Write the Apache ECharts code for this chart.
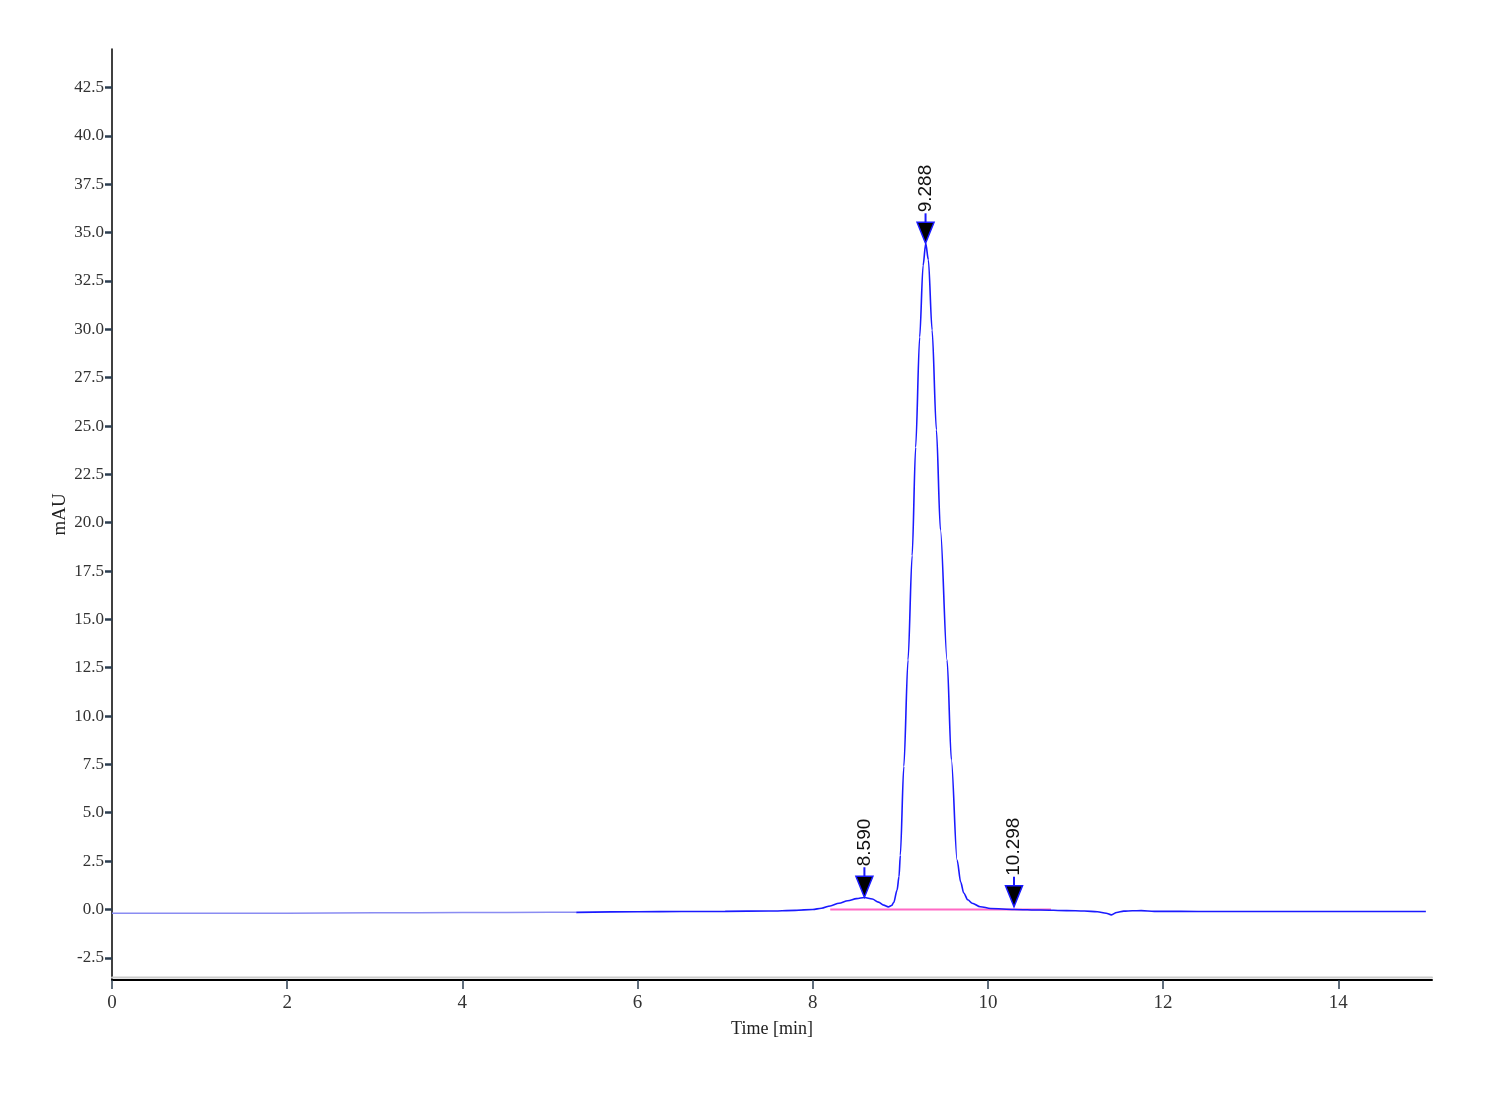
<!DOCTYPE html>
<html>
<head>
<meta charset="utf-8">
<script src="https://cdn.jsdelivr.net/npm/echarts@6/dist/echarts.min.js"></script>
<style>html,body{margin:0;padding:0;background:#fff;}#chart{width:1500px;height:1100px;}</style>
</head>
<body>
<div id="chart"></div>
<script>
// Tick values
const xTickValues = [0, 2, 4, 6, 8, 10, 12, 14];
const yTickValues = [-2.5, 0, 2.5, 5, 7.5, 10, 12.5, 15, 17.5, 20, 22.5, 25, 27.5, 30, 32.5, 35, 37.5, 40, 42.5];

// Early (pale) part of the trace
const timePale   = [0, 0.5, 1.0, 1.5, 2.0, 2.5, 3.0, 3.5, 4.0, 4.5, 5.0, 5.3];
const signalPale = [-0.2, -0.2, -0.2, -0.2, -0.2, -0.18, -0.17, -0.17, -0.16, -0.16, -0.15, -0.15];

// Main part of the trace
const timeMain = [5.3, 6.0, 6.5, 7.0, 7.5, 7.8, 8.0, 8.1, 8.2, 8.3, 8.4, 8.5, 8.59, 8.68, 8.75, 8.81, 8.863, 8.90, 8.924, 8.963, 8.985, 9.0, 9.04, 9.088, 9.135, 9.175, 9.221, 9.26, 9.29, 9.32, 9.363, 9.412, 9.458, 9.534, 9.583, 9.648, 9.69, 9.724, 9.77, 9.82, 9.914, 10.03, 10.3, 10.6, 10.9, 11.1, 11.25, 11.35, 11.41, 11.47, 11.55, 11.65, 11.75, 11.9, 12.2, 12.6, 13.0, 13.5, 14.0, 14.5, 15.0];
const signalMain = [-0.15, -0.12, -0.11, -0.1, -0.08, -0.05, 0.0, 0.06, 0.18, 0.32, 0.45, 0.56, 0.62, 0.54, 0.38, 0.22, 0.13, 0.2, 0.35, 1.0, 1.7, 2.8, 7.4, 12.9, 18.3, 23.9, 29.6, 33.3, 34.45, 33.6, 29.96, 24.8, 19.62, 12.9, 7.73, 2.56, 1.4, 0.85, 0.5, 0.32, 0.14, 0.05, 0.0, -0.03, -0.06, -0.08, -0.12, -0.2, -0.28, -0.16, -0.09, -0.07, -0.06, -0.1, -0.1, -0.11, -0.11, -0.11, -0.11, -0.11, -0.11];

// Integration baseline
const baseTime   = [8.2, 10.72];
const baseSignal = [0.0, 0.0];

// Peak markers
const peakTimes  = [8.590, 9.288, 10.298];
const peakValues = [0.63, 34.45, 0.14];
const peakLabels = ['8.590', '9.288', '10.298'];

const chart = echarts.init(document.getElementById('chart'));
const zip = (a, b) => a.map((v, i) => [v, b[i]]);

chart.setOption({
  backgroundColor: '#ffffff',
  animation: false,
  grid: { left: 112, right: 68, top: 49, bottom: 120, containLabel: false },
  xAxis: {
    type: 'value', min: 0, max: 15.07,
    name: 'Time [min]', nameLocation: 'middle', nameGap: 40, nameMoveOverlap: false,
    nameTextStyle: { fontFamily: 'Liberation Serif', fontSize: 18, color: '#222' },
    axisLine: { show: true, onZero: false, lineStyle: { color: '#000', width: 2, shadowColor: '#cccccc', shadowOffsetY: -2.5, shadowBlur: 0 } },
    axisTick: { show: true, length: 9, lineStyle: { color: '#2c3e50', width: 1.5 }, customValues: xTickValues },
    axisLabel: { show: true, margin: 14, fontFamily: 'Liberation Serif', fontSize: 19, color: '#333', customValues: xTickValues, formatter: v => String(v) },
    splitLine: { show: false }
  },
  yAxis: {
    type: 'value', min: -3.65, max: 44.5,
    name: 'mAU', nameLocation: 'middle', nameGap: 42, nameMoveOverlap: false,
    nameTextStyle: { fontFamily: 'Liberation Serif', fontSize: 19, color: '#222' },
    axisLine: { show: true, onZero: false, lineStyle: { color: '#000', width: 1.5 } },
    axisTick: { show: true, length: 7, lineStyle: { color: '#2c3e50', width: 2.5 }, customValues: yTickValues },
    axisLabel: { show: true, margin: 8, fontFamily: 'Liberation Serif', fontSize: 17, color: '#333', customValues: yTickValues, formatter: v => v.toFixed(1) },
    splitLine: { show: false }
  },
  series: [
    {
      type: 'line', name: 'pale', data: zip(timePale, signalPale),
      showSymbol: false, symbol: 'none', smooth: false,
      lineStyle: { color: '#8a8cf2', width: 1.5 }, z: 2
    },
    {
      type: 'line', name: 'baseline', data: zip(baseTime, baseSignal),
      showSymbol: false, symbol: 'none',
      lineStyle: { color: '#ff69c4', width: 2 }, z: 2
    },
    {
      type: 'line', name: 'trace', data: zip(timeMain, signalMain),
      showSymbol: false, symbol: 'none', smooth: 0.3, smoothMonotone: 'x',
      lineStyle: { color: '#1a1aff', width: 1.6 }, z: 3
    },
    {
      type: 'custom', name: 'peaks', clip: false, z: 5,
      data: zip(peakTimes, peakValues),
      renderItem: function (params, api) {
        const p = api.coord([api.value(0), api.value(1)]);
        const label = peakLabels[params.dataIndex];
        return {
          type: 'group',
          children: [
            { type: 'line', shape: { x1: p[0], y1: p[1] - 21, x2: p[0], y2: p[1] - 30 }, style: { stroke: '#1a1aff', lineWidth: 2 } },
            { type: 'polygon', shape: { points: [[p[0] - 8.5, p[1] - 21], [p[0] + 8.5, p[1] - 21], [p[0], p[1]]] }, style: { fill: '#000', stroke: '#1a1aff', lineWidth: 1.5 } },
            { type: 'text', x: p[0], y: p[1] - 31, rotation: Math.PI / 2, style: { text: label, align: 'left', verticalAlign: 'middle', font: '19px "Liberation Sans"', fill: '#111' } }
          ]
        };
      }
    }
  ]
});
</script>
</body>
</html>
